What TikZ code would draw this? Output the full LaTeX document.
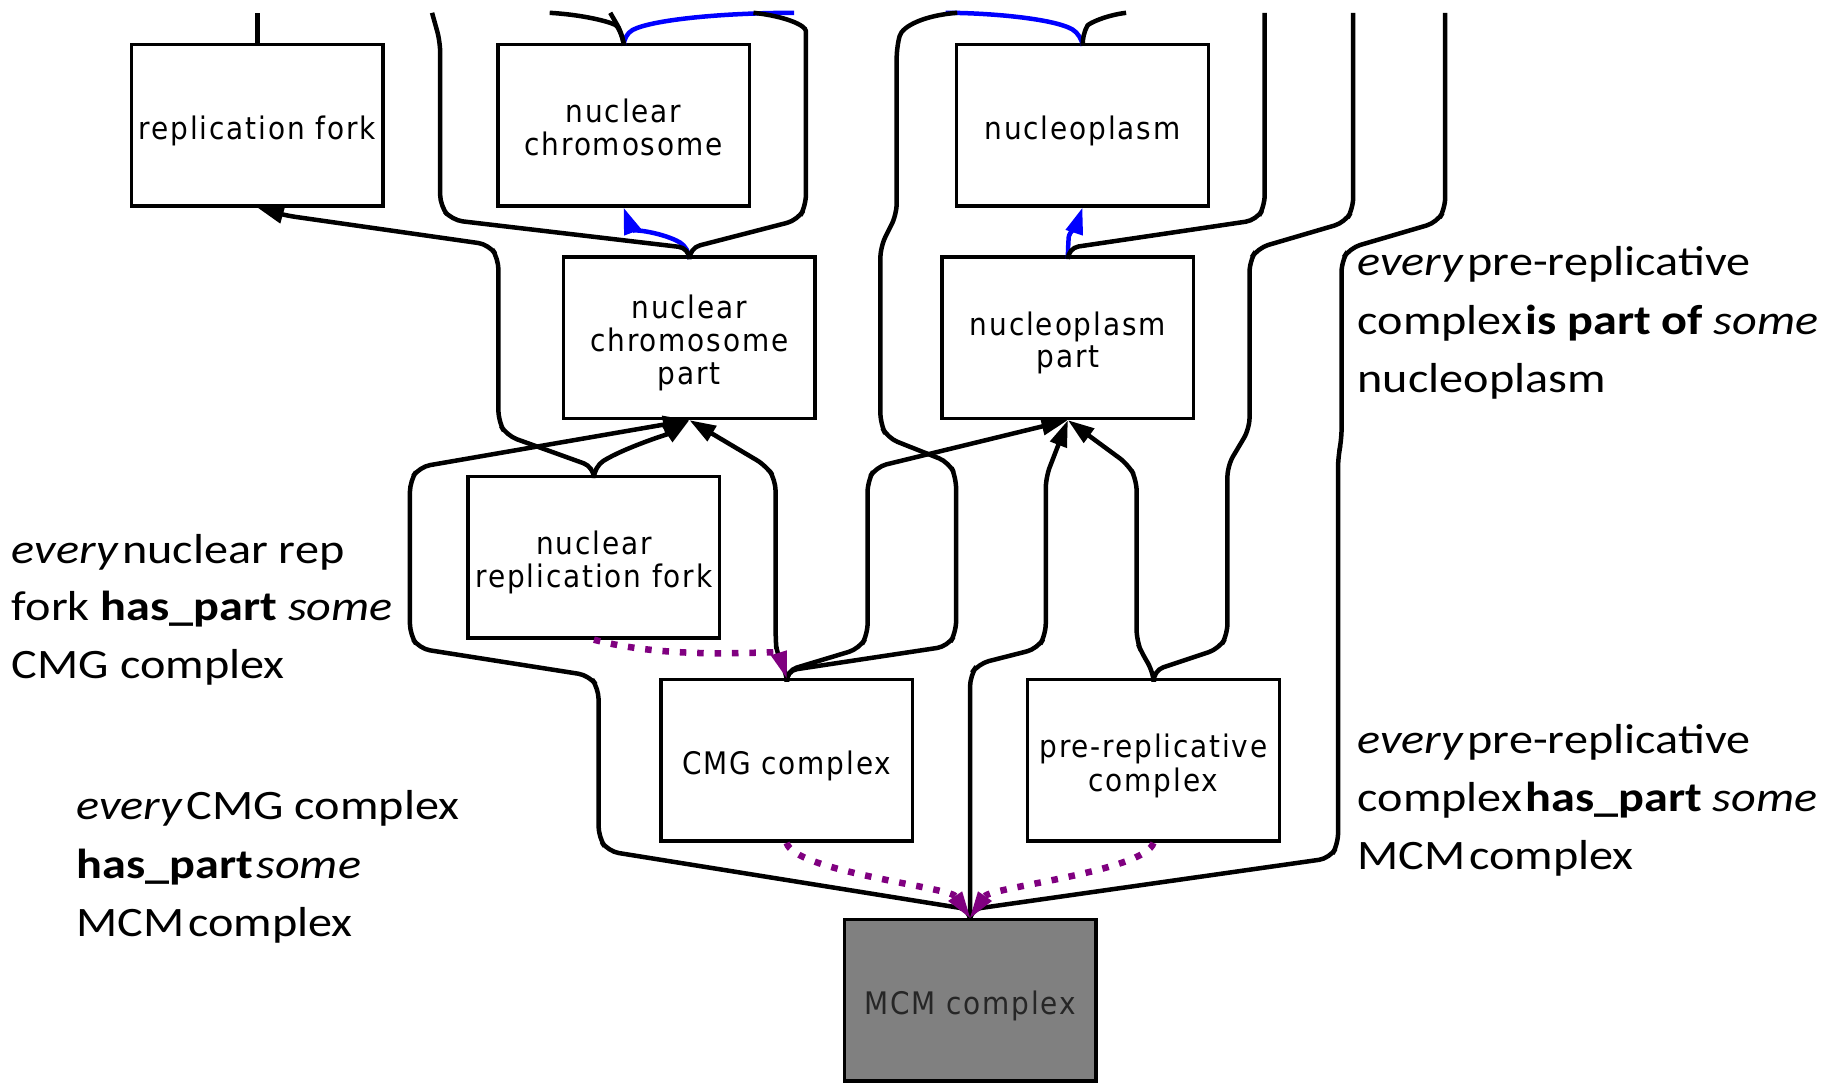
\documentclass[tikz,border=0pt]{standalone}
\usepackage{fontspec}
\usetikzlibrary{arrows.meta}
\newfontfamily\annotfont[FakeStretch=1.15]{Carlito}
\newfontfamily\boxfont[LetterSpace=6]{DejaVu Sans Condensed}
\newcommand\narrowgap{\hspace{0.08em}}
% box labels sit a little below the box centre
\newcommand\lbl[1]{\raisebox{-4.5pt}[\height][\depth]{\begin{tabular}{@{}c@{}}#1\end{tabular}}}
\definecolor{relblue}{RGB}{0,0,255}
\definecolor{relpurple}{RGB}{128,0,128}
\definecolor{leafgray}{RGB}{128,128,128}
\begin{document}
\begin{tikzpicture}[x=0.75pt,y=-0.75pt,
  term/.style={draw=black,line width=2.2pt,fill=white,minimum width=162pt,minimum height=104pt,
    inner sep=0pt,font=\boxfont\fontsize{20}{21}\selectfont},
  focus/.style={term,fill=leafgray,text=black!85},
  annot/.style={anchor=base west,inner sep=0pt,font=\annotfont\fontsize{27}{37.5}\selectfont},
  isa/.style={draw=black,line width=2.9pt,rounded corners=7pt},
  partof/.style={draw=relblue,line width=2.9pt,rounded corners=7pt},
  haspart/.style={draw=relpurple,line width=4.2pt,dash pattern=on 4.2pt off 7pt},
  tipb/.style={-{Triangle[length=17pt,width=11pt]}},
  tipp/.style={-{Triangle[length=17pt,width=11pt,line width=0pt]}}]
\useasboundingbox (0,0) rectangle (1568,935);

% ontology terms
\node[term] (rf)  at (221,107.5) {\lbl{replication fork}};
\node[term] (nc)  at (535.5,107.5) {\lbl{nuclear\\chromosome}};
\node[term] (np)  at (929.5,107.5) {\lbl{nucleoplasm}};
\node[term] (ncp) at (592,290) {\lbl{nuclear\\chromosome\\part}};
\node[term] (npp) at (917,290) {\lbl{nucleoplasm\\part}};
\node[term] (nrf) at (510,478.5) {\lbl{nuclear\\replication fork}};
\node[term] (cmg) at (675.5,653) {\lbl{CMG complex}};
\node[term] (prc) at (990.5,653) {\lbl{pre-replicative\\complex}};
\node[focus] (mcm) at (833,859) {\lbl{MCM complex}};

% free ends of edges leaving the top
\coordinate (t1) at (221,11);
\coordinate (t2) at (371,11);
\coordinate (t3) at (472,11);
\coordinate (t4) at (524,11);
\coordinate (t5) at (647,11);
\coordinate (t6) at (682,11);
\coordinate (t7) at (812,11);
\coordinate (t8) at (822,11);
\coordinate (t9) at (967,11);
\coordinate (t10) at (1086,11);
\coordinate (t11) at (1162,11);
\coordinate (t12) at (1241,11);

% part_of edges (blue)
\draw[partof] (nc.north) -- (535,30) .. controls (560,17) and (620,11) .. (t6);
\draw[partof] (np.north) -- (929,30) .. controls (905,16) and (850,11) .. (t7);
\draw[partof,tipb] (ncp.north) -- (592,213) .. controls (570,200) and (542,196) .. (nc.south);
\draw[partof,tipb] (npp.north) -- (917,213) .. controls (918,200) and (925,192) .. (np.south);

% is_a edges (black)
\draw[isa] (rf.north) -- (t1);
\draw[isa] (ncp.north) -- (592,213) -- (388,189) -- (378,177) -- (378,36) -- (t2);
\draw[isa] (nc.north) -- (535,30) .. controls (528,20) and (505,13) .. (t3);
\draw[isa] (nc.north) -- (535,30) -- (t4);
\draw[isa] (ncp.north) -- (592,213) -- (685,189) -- (692,177) -- (692,36) .. controls (692,22) and (675,14) .. (t5);
\draw[isa] (np.north) -- (929,30) .. controls (935,20) and (950,13) .. (t9);
\draw[isa] (npp.north) -- (917,213) -- (1079,189) -- (1086,177) -- (t10);
\draw[isa] (prc.north) -- (990,576) -- (1047,557) -- (1054,545) -- (1054,400) -- (1073,368) -- (1073,224) -- (1080,213) -- (1155,191) -- (1162,179) -- (t11);
\draw[isa] (mcm.north) -- (833,781) -- (1142,737) -- (1149,725) -- (1149,392) -- (1152,378) -- (1152,224) -- (1159,213) -- (1234,191) -- (1241,179) -- (t12);
\draw[isa] (cmg.north) -- (675,576) -- (814,555) -- (821,543) -- (821,410) -- (815,397) -- (762,376) -- (756,364) -- (756,212) -- (770,184) -- (770,40) .. controls (775,22) and (795,13) .. (t8);
\draw[isa,tipb] (nrf.north) -- (510,401) -- (435,374) -- (428,362) -- (428,222) -- (420,210) -- (245,185) -- (rf.south);
\draw[isa,tipb] (nrf.north) -- (510,401) .. controls (535,385) and (575,372) .. (ncp.south);
\draw[isa,tipb] (cmg.north) -- (675,576) -- (667,562) -- (666,548) -- (666,412) -- (658,400) -- (ncp.south);
\draw[isa,tipb] (mcm.north) -- (833,781) -- (522,731) -- (514,719) -- (514,591) -- (506,580) -- (360,557) -- (352,545) -- (352,413) -- (360,401) -- (ncp.south);
\draw[isa,tipb] (cmg.north) -- (675,576) -- (738,557) -- (745,545) -- (745,413) -- (752,401) -- (npp.south);
\draw[isa,tipb] (mcm.north) -- (833,580) -- (840,570) -- (891,557) -- (898,545) -- (898,410) -- (npp.south);
\draw[isa,tipb] (prc.north) -- (990,576) -- (981,562) -- (976,550) -- (976,412) -- (969,399) -- (npp.south);

% has_part edges (purple, dotted)
\draw[haspart,tipp] (nrf.south) .. controls (580,568) and (668,558) .. (cmg.north);
\draw[haspart,tipp] (cmg.south) .. controls (682,748) and (815,762) .. (mcm.north);
\draw[haspart,tipp] (prc.south) .. controls (983,748) and (851,762) .. (mcm.north);

% statements
\node[annot] (s1a) at (10,483.6) {\textit{every}\narrowgap nuclear rep};
\node[annot] (s1b) at (10,532.6) {fork \textbf{has\_part} \textit{some}};
\node[annot] (s1c) at (10,582.3) {CMG complex};
\node[annot] (s2a) at (65.5,704) {\textit{every}\narrowgap CMG complex};
\node[annot] (s2b) at (65.5,754) {\textbf{has\_part}\narrowgap\textit{some}};
\node[annot] (s2c) at (65.5,804) {MCM\narrowgap complex};
\node[annot] (s3a) at (1165.5,237) {\textit{every}\narrowgap pre-replicative};
\node[annot] (s3b) at (1165.5,287) {complex\narrowgap\textbf{is part of} \textit{some}};
\node[annot] (s3c) at (1165.5,337) {nucleoplasm};
\node[annot] (s4a) at (1165.5,647) {\textit{every}\narrowgap pre-replicative};
\node[annot] (s4b) at (1165.5,697) {complex\narrowgap\textbf{has\_part} \textit{some}};
\node[annot] (s4c) at (1165.5,747) {MCM\narrowgap complex};
\end{tikzpicture}
\end{document}
